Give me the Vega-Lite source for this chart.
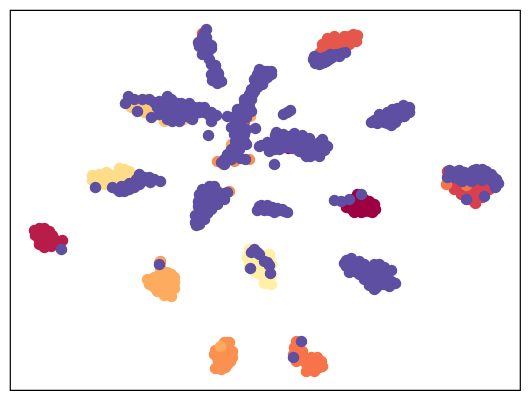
{"$schema":"https://vega.github.io/schema/vega-lite/v6.json","width":510,"height":380,"padding":10,"autosize":"none","background":"white","view":{"stroke":"#000000","strokeWidth":1.2},
"data":{"values":[
{"x":350,"y":205,"c":0},{"x":355,"y":210,"c":0},{"x":360,"y":212,"c":0},{"x":365,"y":212,"c":0},{"x":370,"y":212,"c":0},{"x":375,"y":208,"c":0},{"x":375,"y":205,"c":0},{"x":370,"y":202,"c":0},{"x":365,"y":200,"c":0},{"x":358,"y":195,"c":0},{"x":353,"y":200,"c":0},{"x":360,"y":205,"c":0},{"x":368,"y":207,"c":0},{"x":347,"y":208,"c":0},{"x":289,"y":149,"c":0},{"x":363,"y":206,"c":0},{"x":372,"y":208,"c":0},{"x":356,"y":205,"c":0},{"x":365,"y":205,"c":0},{"x":351,"y":209,"c":0},{"x":376,"y":210,"c":0},{"x":355,"y":213,"c":0},{"x":362,"y":213,"c":0},{"x":373,"y":213,"c":0},
{"x":35,"y":231,"c":1},{"x":40,"y":229,"c":1},{"x":45,"y":229,"c":1},{"x":50,"y":232,"c":1},{"x":53,"y":236,"c":1},{"x":40,"y":236,"c":1},{"x":46,"y":238,"c":1},{"x":50,"y":243,"c":1},{"x":45,"y":248,"c":1},{"x":40,"y":245,"c":1},{"x":57,"y":243,"c":1},{"x":63,"y":241,"c":1},{"x":60,"y":246,"c":1},{"x":52,"y":247,"c":1},{"x":37,"y":232,"c":1},{"x":45,"y":234,"c":1},{"x":47,"y":243,"c":1},{"x":43,"y":241,"c":1},{"x":55,"y":240,"c":1},{"x":50,"y":238,"c":1},{"x":42,"y":232,"c":1},{"x":48,"y":235,"c":1},{"x":36,"y":236,"c":1},{"x":40,"y":240,"c":1},
{"x":455,"y":190,"c":2},{"x":462,"y":195,"c":2},{"x":470,"y":200,"c":2},{"x":476,"y":204,"c":2},{"x":483,"y":198,"c":2},{"x":490,"y":190,"c":2},{"x":495,"y":185,"c":2},{"x":480,"y":185,"c":2},{"x":465,"y":185,"c":2},{"x":475,"y":192,"c":2},{"x":460,"y":180,"c":2},{"x":448,"y":172,"c":2},{"x":470,"y":192,"c":2},{"x":465,"y":192,"c":2},{"x":480,"y":192,"c":2},{"x":485,"y":190,"c":2},{"x":458,"y":186,"c":2},{"x":452,"y":185,"c":2},{"x":470,"y":186,"c":2},{"x":485,"y":185,"c":2},{"x":475,"y":198,"c":2},{"x":482,"y":192,"c":2},{"x":490,"y":185,"c":2},{"x":468,"y":196,"c":2},
{"x":358,"y":36,"c":3},{"x":355,"y":40,"c":3},{"x":350,"y":37,"c":3},{"x":345,"y":37,"c":3},{"x":340,"y":40,"c":3},{"x":335,"y":41,"c":3},{"x":328,"y":43,"c":3},{"x":325,"y":47,"c":3},{"x":322,"y":52,"c":3},{"x":330,"y":50,"c":3},{"x":340,"y":47,"c":3},{"x":350,"y":45,"c":3},{"x":345,"y":42,"c":3},{"x":328,"y":39,"c":3},{"x":320,"y":54,"c":3},{"x":203,"y":34,"c":3},{"x":245,"y":122,"c":3},{"x":228,"y":343,"c":3},{"x":335,"y":46,"c":3},{"x":345,"y":46,"c":3},{"x":352,"y":40,"c":3},{"x":330,"y":45,"c":3},{"x":337,"y":43,"c":3},{"x":326,"y":52,"c":3},{"x":340,"y":43,"c":3},{"x":323,"y":45,"c":3},{"x":354,"y":35,"c":3},{"x":335,"y":37,"c":3},{"x":357,"y":42,"c":3},
{"x":297,"y":342,"c":4},{"x":295,"y":348,"c":4},{"x":298,"y":350,"c":4},{"x":294,"y":355,"c":4},{"x":300,"y":355,"c":4},{"x":297,"y":362,"c":4},{"x":305,"y":362,"c":4},{"x":305,"y":358,"c":4},{"x":312,"y":358,"c":4},{"x":318,"y":358,"c":4},{"x":322,"y":362,"c":4},{"x":320,"y":368,"c":4},{"x":315,"y":372,"c":4},{"x":307,"y":372,"c":4},{"x":308,"y":367,"c":4},{"x":315,"y":364,"c":4},{"x":300,"y":360,"c":4},{"x":447,"y":185,"c":4},{"x":467,"y":186,"c":4},{"x":310,"y":363,"c":4},{"x":312,"y":368,"c":4},{"x":303,"y":360,"c":4},{"x":318,"y":364,"c":4},{"x":300,"y":345,"c":4},{"x":303,"y":352,"c":4},{"x":323,"y":367,"c":4},
{"x":230,"y":343,"c":5},{"x":225,"y":343,"c":5},{"x":222,"y":348,"c":5},{"x":216,"y":351,"c":5},{"x":218,"y":358,"c":5},{"x":222,"y":352,"c":5},{"x":230,"y":350,"c":5},{"x":233,"y":358,"c":5},{"x":228,"y":365,"c":5},{"x":222,"y":370,"c":5},{"x":216,"y":369,"c":5},{"x":220,"y":365,"c":5},{"x":228,"y":358,"c":5},{"x":225,"y":360,"c":5},{"x":233,"y":352,"c":5},{"x":215,"y":355,"c":5},{"x":218,"y":162,"c":5},{"x":224,"y":165,"c":5},{"x":235,"y":162,"c":5},{"x":250,"y":160,"c":5},{"x":161,"y":262,"c":5},{"x":230,"y":192,"c":5},{"x":225,"y":352,"c":5},{"x":228,"y":347,"c":5},{"x":220,"y":358,"c":5},{"x":226,"y":368,"c":5},{"x":219,"y":362,"c":5},{"x":231,"y":362,"c":5},
{"x":160,"y":263,"c":6},{"x":161,"y":268,"c":6},{"x":163,"y":272,"c":6},{"x":150,"y":280,"c":6},{"x":158,"y":280,"c":6},{"x":165,"y":278,"c":6},{"x":172,"y":280,"c":6},{"x":175,"y":283,"c":6},{"x":172,"y":290,"c":6},{"x":170,"y":295,"c":6},{"x":165,"y":296,"c":6},{"x":158,"y":292,"c":6},{"x":155,"y":288,"c":6},{"x":150,"y":285,"c":6},{"x":165,"y":285,"c":6},{"x":170,"y":285,"c":6},{"x":160,"y":285,"c":6},{"x":168,"y":273,"c":6},{"x":172,"y":297,"c":6},{"x":221,"y":347,"c":6},{"x":232,"y":145,"c":6},{"x":251,"y":117,"c":6},{"x":155,"y":282,"c":6},{"x":170,"y":290,"c":6},{"x":165,"y":290,"c":6},{"x":160,"y":290,"c":6},{"x":163,"y":280,"c":6},{"x":160,"y":275,"c":6},{"x":148,"y":280,"c":6},{"x":175,"y":278,"c":6},{"x":155,"y":278,"c":6},{"x":172,"y":275,"c":6},{"x":175,"y":289,"c":6},
{"x":135,"y":105,"c":7},{"x":140,"y":110,"c":7},{"x":145,"y":113,"c":7},{"x":150,"y":112,"c":7},{"x":155,"y":115,"c":7},{"x":148,"y":100,"c":7},{"x":145,"y":105,"c":7},{"x":155,"y":105,"c":7},{"x":165,"y":122,"c":7},{"x":162,"y":117,"c":7},{"x":132,"y":108,"c":7},{"x":137,"y":110,"c":7},{"x":185,"y":120,"c":7},{"x":150,"y":105,"c":7},{"x":143,"y":108,"c":7},{"x":160,"y":112,"c":7},
{"x":93,"y":176,"c":8},{"x":95,"y":182,"c":8},{"x":100,"y":175,"c":8},{"x":105,"y":178,"c":8},{"x":110,"y":175,"c":8},{"x":120,"y":169,"c":8},{"x":125,"y":175,"c":8},{"x":130,"y":178,"c":8},{"x":115,"y":180,"c":8},{"x":120,"y":185,"c":8},{"x":105,"y":185,"c":8},{"x":98,"y":180,"c":8},{"x":110,"y":183,"c":8},{"x":130,"y":172,"c":8},{"x":100,"y":180,"c":8},{"x":112,"y":178,"c":8},{"x":118,"y":178,"c":8},{"x":125,"y":182,"c":8},{"x":115,"y":176,"c":8},{"x":107,"y":173,"c":8},{"x":125,"y":170,"c":8},{"x":127,"y":178,"c":8},{"x":93,"y":181,"c":8},
{"x":250,"y":250,"c":9},{"x":250,"y":262,"c":9},{"x":250,"y":267,"c":9},{"x":255,"y":272,"c":9},{"x":260,"y":275,"c":9},{"x":265,"y":278,"c":9},{"x":270,"y":284,"c":9},{"x":265,"y":284,"c":9},{"x":272,"y":276,"c":9},{"x":272,"y":265,"c":9},{"x":270,"y":258,"c":9},{"x":260,"y":265,"c":9},{"x":265,"y":270,"c":9},{"x":255,"y":265,"c":9},{"x":272,"y":285,"c":9},{"x":270,"y":255,"c":9},{"x":258,"y":270,"c":9},{"x":262,"y":270,"c":9},{"x":268,"y":275,"c":9},{"x":255,"y":258,"c":9},{"x":265,"y":256,"c":9},{"x":248,"y":258,"c":9},{"x":262,"y":260,"c":9},
{"x":335,"y":201,"c":10},{"x":342,"y":202,"c":10},{"x":350,"y":200,"c":10},{"x":362,"y":195,"c":10},{"x":62,"y":250,"c":10},
{"x":450,"y":177,"c":10},{"x":448,"y":178,"c":10},{"x":452,"y":172,"c":10},{"x":460,"y":175,"c":10},{"x":470,"y":174,"c":10},{"x":475,"y":176,"c":10},{"x":477,"y":170,"c":10},{"x":483,"y":170,"c":10},{"x":487,"y":172,"c":10},{"x":492,"y":175,"c":10},{"x":497,"y":180,"c":10},{"x":499,"y":184,"c":10},{"x":496,"y":188,"c":10},{"x":470,"y":180,"c":10},{"x":475,"y":180,"c":10},{"x":480,"y":178,"c":10},{"x":483,"y":181,"c":10},{"x":458,"y":172,"c":10},{"x":460,"y":180,"c":10},{"x":485,"y":197,"c":10},{"x":467,"y":200,"c":10},{"x":473,"y":172,"c":10},{"x":490,"y":178,"c":10},{"x":455,"y":178,"c":10},{"x":465,"y":178,"c":10},{"x":488,"y":178,"c":10},{"x":493,"y":182,"c":10},{"x":478,"y":174,"c":10},{"x":465,"y":173,"c":10},{"x":450,"y":171,"c":10},{"x":460,"y":171,"c":10},{"x":474,"y":171,"c":10},{"x":481,"y":171,"c":10},{"x":486,"y":176,"c":10},{"x":494,"y":178,"c":10},{"x":463,"y":182,"c":10},{"x":472,"y":182,"c":10},
{"x":316,"y":60,"c":10},{"x":318,"y":64,"c":10},{"x":322,"y":64,"c":10},{"x":327,"y":62,"c":10},{"x":330,"y":60,"c":10},{"x":333,"y":58,"c":10},{"x":320,"y":59,"c":10},{"x":325,"y":58,"c":10},{"x":337,"y":55,"c":10},{"x":342,"y":54,"c":10},{"x":346,"y":53,"c":10},{"x":314,"y":60,"c":10},{"x":331,"y":55,"c":10},{"x":316,"y":64,"c":10},{"x":322,"y":60,"c":10},{"x":325,"y":63,"c":10},{"x":320,"y":65,"c":10},{"x":315,"y":57,"c":10},{"x":340,"y":57,"c":10},{"x":328,"y":57,"c":10},
{"x":372,"y":123,"c":10},{"x":378,"y":120,"c":10},{"x":382,"y":117,"c":10},{"x":385,"y":120,"c":10},{"x":388,"y":124,"c":10},{"x":392,"y":126,"c":10},{"x":396,"y":123,"c":10},{"x":400,"y":118,"c":10},{"x":403,"y":113,"c":10},{"x":408,"y":112,"c":10},{"x":410,"y":108,"c":10},{"x":404,"y":106,"c":10},{"x":398,"y":109,"c":10},{"x":393,"y":110,"c":10},{"x":388,"y":113,"c":10},{"x":380,"y":115,"c":10},{"x":392,"y":117,"c":10},{"x":385,"y":123,"c":10},{"x":375,"y":121,"c":10},{"x":388,"y":118,"c":10},{"x":395,"y":115,"c":10},{"x":400,"y":112,"c":10},{"x":390,"y":121,"c":10},{"x":383,"y":122,"c":10},{"x":378,"y":124,"c":10},{"x":405,"y":117,"c":10},{"x":410,"y":113,"c":10},{"x":395,"y":120,"c":10},
{"x":284,"y":115,"c":10},{"x":288,"y":113,"c":10},{"x":291,"y":111,"c":10},
{"x":276,"y":136,"c":10},{"x":280,"y":138,"c":10},{"x":285,"y":137,"c":10},{"x":295,"y":136,"c":10},{"x":300,"y":138,"c":10},{"x":305,"y":140,"c":10},{"x":310,"y":142,"c":10},{"x":315,"y":145,"c":10},{"x":320,"y":143,"c":10},{"x":325,"y":145,"c":10},{"x":328,"y":147,"c":10},{"x":325,"y":151,"c":10},{"x":320,"y":153,"c":10},{"x":315,"y":155,"c":10},{"x":311,"y":157,"c":10},{"x":305,"y":154,"c":10},{"x":298,"y":150,"c":10},{"x":290,"y":148,"c":10},{"x":285,"y":146,"c":10},{"x":280,"y":145,"c":10},{"x":272,"y":147,"c":10},{"x":270,"y":152,"c":10},{"x":275,"y":144,"c":10},{"x":290,"y":142,"c":10},{"x":300,"y":145,"c":10},{"x":310,"y":150,"c":10},{"x":318,"y":149,"c":10},{"x":305,"y":148,"c":10},{"x":295,"y":143,"c":10},{"x":285,"y":142,"c":10},{"x":262,"y":146,"c":10},{"x":268,"y":143,"c":10},{"x":275,"y":165,"c":10},{"x":282,"y":141,"c":10},{"x":290,"y":137,"c":10},{"x":300,"y":142,"c":10},{"x":315,"y":150,"c":10},{"x":320,"y":148,"c":10},{"x":310,"y":146,"c":10},{"x":295,"y":147,"c":10},{"x":305,"y":151,"c":10},{"x":280,"y":141,"c":10},{"x":277,"y":133,"c":10},{"x":284,"y":135,"c":10},{"x":295,"y":134,"c":10},{"x":303,"y":136,"c":10},{"x":310,"y":139,"c":10},{"x":323,"y":140,"c":10},{"x":293,"y":149,"c":10},{"x":300,"y":152,"c":10},{"x":307,"y":157,"c":10},{"x":320,"y":157,"c":10},{"x":280,"y":150,"c":10},{"x":275,"y":150,"c":10},{"x":285,"y":148,"c":10},
{"x":207,"y":30,"c":10},{"x":205,"y":34,"c":10},{"x":203,"y":38,"c":10},{"x":207,"y":38,"c":10},{"x":200,"y":46,"c":10},{"x":205,"y":45,"c":10},{"x":210,"y":50,"c":10},{"x":205,"y":52,"c":10},{"x":200,"y":47,"c":10},{"x":212,"y":49,"c":10},{"x":203,"y":55,"c":10},{"x":208,"y":55,"c":10},{"x":210,"y":60,"c":10},{"x":212,"y":65,"c":10},{"x":215,"y":70,"c":10},{"x":212,"y":75,"c":10},{"x":217,"y":72,"c":10},{"x":213,"y":81,"c":10},{"x":218,"y":84,"c":10},{"x":222,"y":82,"c":10},{"x":215,"y":78,"c":10},{"x":208,"y":43,"c":10},{"x":205,"y":49,"c":10},{"x":208,"y":49,"c":10},{"x":199,"y":43,"c":10},{"x":212,"y":46,"c":10},{"x":216,"y":66,"c":10},{"x":219,"y":74,"c":10},{"x":219,"y":79,"c":10},
{"x":129,"y":97,"c":10},{"x":126,"y":104,"c":10},{"x":135,"y":100,"c":10},{"x":143,"y":100,"c":10},{"x":150,"y":100,"c":10},{"x":160,"y":105,"c":10},{"x":168,"y":97,"c":10},{"x":172,"y":100,"c":10},{"x":175,"y":106,"c":10},{"x":165,"y":110,"c":10},{"x":170,"y":116,"c":10},{"x":178,"y":115,"c":10},{"x":168,"y":120,"c":10},{"x":180,"y":122,"c":10},{"x":172,"y":108,"c":10},{"x":185,"y":110,"c":10},{"x":190,"y":104,"c":10},{"x":195,"y":115,"c":10},{"x":190,"y":118,"c":10},{"x":205,"y":108,"c":10},{"x":210,"y":116,"c":10},{"x":212,"y":122,"c":10},{"x":217,"y":116,"c":10},{"x":180,"y":108,"c":10},{"x":185,"y":117,"c":10},{"x":195,"y":108,"c":10},{"x":200,"y":113,"c":10},{"x":138,"y":112,"c":10},{"x":152,"y":118,"c":10},{"x":158,"y":108,"c":10},{"x":175,"y":112,"c":10},{"x":160,"y":102,"c":10},{"x":155,"y":103,"c":10},{"x":175,"y":120,"c":10},{"x":182,"y":112,"c":10},{"x":190,"y":112,"c":10},{"x":165,"y":104,"c":10},{"x":173,"y":122,"c":10},{"x":200,"y":108,"c":10},{"x":205,"y":113,"c":10},{"x":193,"y":120,"c":10},{"x":212,"y":113,"c":10},{"x":170,"y":103,"c":10},{"x":178,"y":104,"c":10},{"x":182,"y":104,"c":10},{"x":160,"y":115,"c":10},
{"x":96,"y":188,"c":10},{"x":113,"y":188,"c":10},{"x":118,"y":190,"c":10},{"x":125,"y":192,"c":10},{"x":128,"y":187,"c":10},{"x":135,"y":183,"c":10},{"x":140,"y":175,"c":10},{"x":143,"y":182,"c":10},{"x":150,"y":178,"c":10},{"x":155,"y":180,"c":10},{"x":161,"y":182,"c":10},{"x":145,"y":178,"c":10},{"x":137,"y":180,"c":10},{"x":130,"y":190,"c":10},{"x":122,"y":187,"c":10},{"x":140,"y":185,"c":10},{"x":148,"y":180,"c":10},{"x":130,"y":184,"c":10},{"x":120,"y":192,"c":10},{"x":125,"y":187,"c":10},{"x":135,"y":188,"c":10},{"x":151,"y":183,"c":10},
{"x":265,"y":72,"c":10},{"x":258,"y":75,"c":10},{"x":262,"y":80,"c":10},{"x":256,"y":85,"c":10},{"x":252,"y":90,"c":10},{"x":250,"y":95,"c":10},{"x":248,"y":100,"c":10},{"x":245,"y":105,"c":10},{"x":240,"y":112,"c":10},{"x":235,"y":117,"c":10},{"x":228,"y":117,"c":10},{"x":245,"y":115,"c":10},{"x":250,"y":108,"c":10},{"x":252,"y":100,"c":10},{"x":258,"y":88,"c":10},{"x":268,"y":72,"c":10},{"x":272,"y":72,"c":10},{"x":260,"y":70,"c":10},{"x":268,"y":78,"c":10},{"x":272,"y":75,"c":10},{"x":241,"y":122,"c":10},{"x":255,"y":92,"c":10},{"x":262,"y":76,"c":10},{"x":250,"y":103,"c":10},{"x":240,"y":118,"c":10},{"x":248,"y":110,"c":10},{"x":243,"y":112,"c":10},{"x":255,"y":80,"c":10},{"x":253,"y":95,"c":10},{"x":245,"y":100,"c":10},{"x":258,"y":82,"c":10},{"x":263,"y":85,"c":10},{"x":265,"y":80,"c":10},{"x":247,"y":108,"c":10},{"x":252,"y":112,"c":10},{"x":238,"y":110,"c":10},{"x":236,"y":122,"c":10},{"x":247,"y":118,"c":10},
{"x":232,"y":128,"c":10},{"x":240,"y":130,"c":10},{"x":245,"y":135,"c":10},{"x":238,"y":135,"c":10},{"x":243,"y":140,"c":10},{"x":240,"y":145,"c":10},{"x":245,"y":142,"c":10},{"x":235,"y":150,"c":10},{"x":232,"y":155,"c":10},{"x":228,"y":160,"c":10},{"x":222,"y":163,"c":10},{"x":225,"y":165,"c":10},{"x":240,"y":150,"c":10},{"x":236,"y":142,"c":10},{"x":244,"y":133,"c":10},{"x":241,"y":159,"c":10},{"x":246,"y":160,"c":10},{"x":256,"y":129,"c":10},{"x":260,"y":147,"c":10},{"x":209,"y":136,"c":10},{"x":240,"y":138,"c":10},{"x":240,"y":125,"c":10},{"x":236,"y":155,"c":10},{"x":232,"y":160,"c":10},{"x":235,"y":135,"c":10},{"x":247,"y":130,"c":10},{"x":247,"y":145,"c":10},{"x":228,"y":155,"c":10},{"x":225,"y":160,"c":10},{"x":232,"y":150,"c":10},
{"x":203,"y":190,"c":10},{"x":210,"y":187,"c":10},{"x":215,"y":187,"c":10},{"x":225,"y":194,"c":10},{"x":228,"y":193,"c":10},{"x":204,"y":195,"c":10},{"x":212,"y":193,"c":10},{"x":220,"y":197,"c":10},{"x":205,"y":200,"c":10},{"x":212,"y":200,"c":10},{"x":220,"y":200,"c":10},{"x":205,"y":207,"c":10},{"x":212,"y":205,"c":10},{"x":218,"y":205,"c":10},{"x":225,"y":200,"c":10},{"x":200,"y":213,"c":10},{"x":205,"y":213,"c":10},{"x":208,"y":208,"c":10},{"x":200,"y":220,"c":10},{"x":203,"y":218,"c":10},{"x":197,"y":226,"c":10},{"x":200,"y":225,"c":10},{"x":205,"y":220,"c":10},{"x":196,"y":223,"c":10},{"x":208,"y":190,"c":10},{"x":215,"y":192,"c":10},{"x":208,"y":203,"c":10},{"x":200,"y":195,"c":10},{"x":199,"y":202,"c":10},{"x":218,"y":192,"c":10},{"x":196,"y":216,"c":10},{"x":208,"y":214,"c":10},{"x":212,"y":210,"c":10},{"x":199,"y":207,"c":10},
{"x":258,"y":211,"c":10},{"x":262,"y":206,"c":10},{"x":268,"y":206,"c":10},{"x":273,"y":208,"c":10},{"x":275,"y":213,"c":10},{"x":280,"y":211,"c":10},{"x":285,"y":212,"c":10},{"x":288,"y":213,"c":10},{"x":265,"y":211,"c":10},{"x":270,"y":211,"c":10},{"x":260,"y":207,"c":10},{"x":263,"y":209,"c":10},{"x":268,"y":208,"c":10},{"x":278,"y":209,"c":10},{"x":283,"y":210,"c":10},
{"x":255,"y":250,"c":10},{"x":252,"y":253,"c":10},{"x":258,"y":253,"c":10},{"x":260,"y":255,"c":10},{"x":251,"y":269,"c":10},{"x":265,"y":262,"c":10},{"x":268,"y":263,"c":10},{"x":270,"y":266,"c":10},{"x":271,"y":274,"c":10},
{"x":160,"y":265,"c":10},{"x":302,"y":342,"c":10},{"x":294,"y":358,"c":10},
{"x":347,"y":261,"c":10},{"x":352,"y":259,"c":10},{"x":347,"y":267,"c":10},{"x":352,"y":265,"c":10},{"x":360,"y":262,"c":10},{"x":365,"y":265,"c":10},{"x":355,"y":272,"c":10},{"x":350,"y":273,"c":10},{"x":360,"y":275,"c":10},{"x":368,"y":270,"c":10},{"x":372,"y":268,"c":10},{"x":380,"y":265,"c":10},{"x":385,"y":268,"c":10},{"x":388,"y":272,"c":10},{"x":378,"y":272,"c":10},{"x":392,"y":282,"c":10},{"x":396,"y":284,"c":10},{"x":390,"y":287,"c":10},{"x":380,"y":285,"c":10},{"x":375,"y":290,"c":10},{"x":380,"y":280,"c":10},{"x":370,"y":280,"c":10},{"x":365,"y":275,"c":10},{"x":372,"y":283,"c":10},{"x":385,"y":280,"c":10},{"x":360,"y":270,"c":10},{"x":377,"y":288,"c":10},{"x":356,"y":265,"c":10},{"x":356,"y":268,"c":10},{"x":365,"y":270,"c":10},{"x":372,"y":275,"c":10},{"x":378,"y":278,"c":10},{"x":385,"y":285,"c":10},{"x":370,"y":272,"c":10},{"x":352,"y":270,"c":10},{"x":365,"y":280,"c":10},{"x":383,"y":275,"c":10},{"x":392,"y":271,"c":10},{"x":368,"y":276,"c":10},{"x":375,"y":265,"c":10},{"x":388,"y":285,"c":10},{"x":370,"y":286,"c":10},{"x":345,"y":264,"c":10},{"x":375,"y":270,"c":10}
]},
"mark":{"type":"point","shape":"circle","filled":true,"opacity":1,"size":135},
"encoding":{
"x":{"field":"x","type":"quantitative","axis":null,"scale":{"domain":[10.5,520.5],"nice":false,"zero":false}},
"y":{"field":"y","type":"quantitative","axis":null,"scale":{"domain":[390.5,10.5],"nice":false,"zero":false}},
"color":{"field":"c","type":"nominal","legend":null,"scale":{"domain":[0,1,2,3,4,5,6,7,8,9,10],"range":["#9e0142","#b81c48","#d8404f","#e5574b","#f7734a","#fb9150","#fdab5e","#fdc877","#fddd87","#fff0a6","#5e4fa2"]}}
}}
